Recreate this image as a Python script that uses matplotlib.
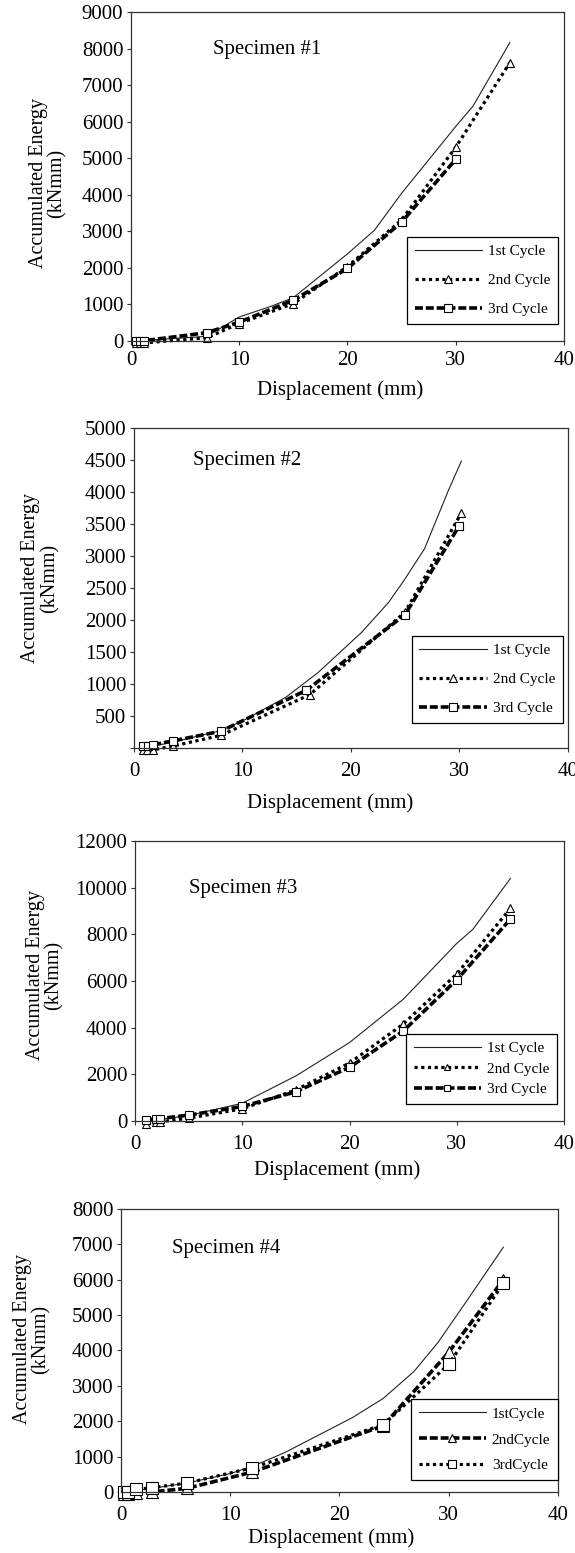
import matplotlib
matplotlib.use('Agg')

import matplotlib.pyplot as plt

plt.rcParams['font.family'] = ['Liberation Serif', 'DejaVu Serif']

# ---- data (displacement mm, accumulated energy kNmm) ----
# Specimen #1
s1_x1 = [0.5, 0.8, 1.2, 7, 10, 13, 15, 20, 22.5, 25, 30, 31.6, 35]
s1_y1 = [0, 0, 10, 120, 650, 950, 1180, 2380, 3030, 4040, 5870, 6430, 8170]
s1_x2 = [0.5, 0.8, 1.2, 7, 10, 15, 20, 25, 30, 35]
s1_y2 = [-60, -60, -60, 80, 470, 1020, 2030, 3310, 5300, 7620]
s1_x3 = [0.5, 0.8, 1.2, 7, 10, 15, 20, 25, 30]
s1_y3 = [0, 0, 0, 220, 510, 1110, 1980, 3250, 4970]

# Specimen #2
s2_x1 = [0.8, 1.2, 1.8, 3.6, 8, 10, 14, 17, 21, 23.5, 25, 26.8, 29, 30.2]
s2_y1 = [0, 5, 30, 90, 270, 420, 790, 1180, 1806, 2275, 2640, 3110, 4020, 4480]
s2_x2 = [0.8, 1.2, 1.8, 3.6, 8, 16.2, 25, 30.2]
s2_y2 = [-40, -40, -30, 30, 195, 830, 2120, 3670]
s2_x3 = [0.8, 1.3, 1.8, 3.6, 8, 15.9, 25, 30]
s2_y3 = [30, 30, 50, 110, 260, 900, 2080, 3470]

# Specimen #3
s3_x1 = [1, 2, 2.3, 5, 10, 15, 20, 25, 30, 31.5, 35]
s3_y1 = [0, 50, 70, 230, 760, 1930, 3360, 5210, 7610, 8210, 10390]
s3_x2 = [1, 2, 2.3, 5, 10, 15, 20, 25, 30, 35]
s3_y2 = [-120, -50, -40, 120, 520, 1330, 2480, 4150, 6300, 9110]
s3_x3 = [1, 2, 2.3, 5, 10, 15, 20, 25, 30, 35]
s3_y3 = [30, 100, 100, 250, 620, 1250, 2300, 3850, 6050, 8650]

# Specimen #4
s4_x1 = [0.3, 0.6, 1.4, 2.8, 6, 10, 12, 15, 21.2, 24, 26.8, 29, 31.5, 35]
s4_y1 = [0, 0, 50, 100, 250, 520, 720, 1115, 2105, 2644, 3400, 4220, 5335, 6920]
s4_x2 = [0.3, 0.6, 1.4, 2.8, 6, 12, 24, 30, 35]
s4_y2 = [-60, -60, -30, 0, 100, 560, 1870, 3950, 6000]
s4_x3 = [0.3, 0.6, 1.4, 2.8, 6, 12, 24, 30, 35]
s4_y3 = [0, 0, 70, 120, 250, 680, 1900, 3610, 5900]

titles = ['Specimen #1', 'Specimen #2', 'Specimen #3', 'Specimen #4']
labels_a = ['1st Cycle', '2nd Cycle', '3rd Cycle']
labels_b = ['1stCycle', '2ndCycle', '3rdCycle']
ymaxes = [9000, 5000, 12000, 8000]
ysteps = [1000, 500, 2000, 1000]
xticks = [0, 10, 20, 30, 40]

# ---- layout (figure fractions) ----
rects = [[0.2278, 0.7806, 0.7530, 0.2115],
         [0.2330, 0.5184, 0.7541, 0.2061],
         [0.2348, 0.2782, 0.7461, 0.1803],
         [0.2104, 0.0393, 0.7600, 0.1822]]
spec_pos = [(0.189, 0.888), (0.137, 0.897), (0.127, 0.829), (0.117, 0.859)]
ylab_pos = [(-0.192, 0.48), (-0.216, 0.53), (-0.21, 0.52), (-0.204, 0.54)]
xlab_pos = [(0.482, -0.150), (0.452, -0.172), (0.47, -0.175), (0.48, -0.163)]
leg_anchor = [(0.986, 0.051), (0.989, 0.078), (0.984, 0.061), (1.0, 0.042)]
leg_spacing = [1.0, 1.0, 0.45, 0.8]
xpads = [4.2, 7, 7, 7]
msizes = [6, 6, 5.2, 8]
mscales = [0.9, 0.9, 0.9, 0.65]

series = [[(s1_x1, s1_y1), (s1_x2, s1_y2), (s1_x3, s1_y3)],
          [(s2_x1, s2_y1), (s2_x2, s2_y2), (s2_x3, s2_y3)],
          [(s3_x1, s3_y1), (s3_x2, s3_y2), (s3_x3, s3_y3)],
          [(s4_x1, s4_y1), (s4_x2, s4_y2), (s4_x3, s4_y3)]]

dotted = (0, (1, 1.1))
dashed = (0, (2.2, 0.8))

fig = plt.figure(figsize=(5.75, 15.53), dpi=100)

for i in range(4):
    ax = fig.add_axes(rects[i])
    (xa, ya), (xb, yb), (xc, yc) = series[i]
    ms = msizes[i]
    if i < 3:
        labs = labels_a
        st2, lw2 = dotted, 2.3
        st3, lw3 = dashed, 2.6
    else:
        labs = labels_b
        st2, lw2 = dashed, 2.6
        st3, lw3 = dotted, 2.3
    ax.plot(xa, ya, '-', color='#222222', lw=0.8, label=labs[0], clip_on=False)
    ax.plot(xb, yb, linestyle=st2, color='black', lw=lw2, marker='^', ms=ms,
            mfc='white', mec='black', mew=0.8, label=labs[1], clip_on=False)
    ax.plot(xc, yc, linestyle=st3, color='black', lw=lw3, marker='s', ms=ms,
            mfc='white', mec='black', mew=0.8, label=labs[2], clip_on=False)

    ax.set_xlim(0, 40)
    ax.set_ylim(0, ymaxes[i])
    ax.set_xticks(xticks)
    yt = list(range(0, ymaxes[i] + 1, ysteps[i]))
    ax.set_yticks(yt)
    if i == 1:
        ax.set_yticklabels([''] + [str(v) for v in yt[1:]])
    ax.tick_params(axis='both', direction='out', length=3, width=0.8,
                   labelsize=15, color='#333333')
    ax.tick_params(axis='x', pad=xpads[i])
    ax.tick_params(axis='y', pad=2.5)
    for sp in ax.spines.values():
        sp.set_color('#333333')
        sp.set_linewidth(0.9)

    ax.text(spec_pos[i][0], spec_pos[i][1], titles[i], transform=ax.transAxes,
            fontsize=15, ha='left', va='center')
    ax.set_ylabel('Accumulated Energy\n(kNmm)', fontsize=14.5, va='center',
                  linespacing=1.0)
    ax.yaxis.set_label_coords(*ylab_pos[i])
    ax.set_xlabel('Displacement (mm)', fontsize=15, va='center')
    ax.xaxis.set_label_coords(*xlab_pos[i])

    leg = ax.legend(loc='lower right', bbox_to_anchor=leg_anchor[i],
                    borderaxespad=0, fontsize=11, handlelength=4.4,
                    handletextpad=0.4, borderpad=0.5, labelspacing=leg_spacing[i],
                    fancybox=False, framealpha=1, edgecolor='black',
                    markerscale=mscales[i], numpoints=1)
    leg.get_frame().set_linewidth(0.9)

plt.savefig('out.png', dpi=100)
